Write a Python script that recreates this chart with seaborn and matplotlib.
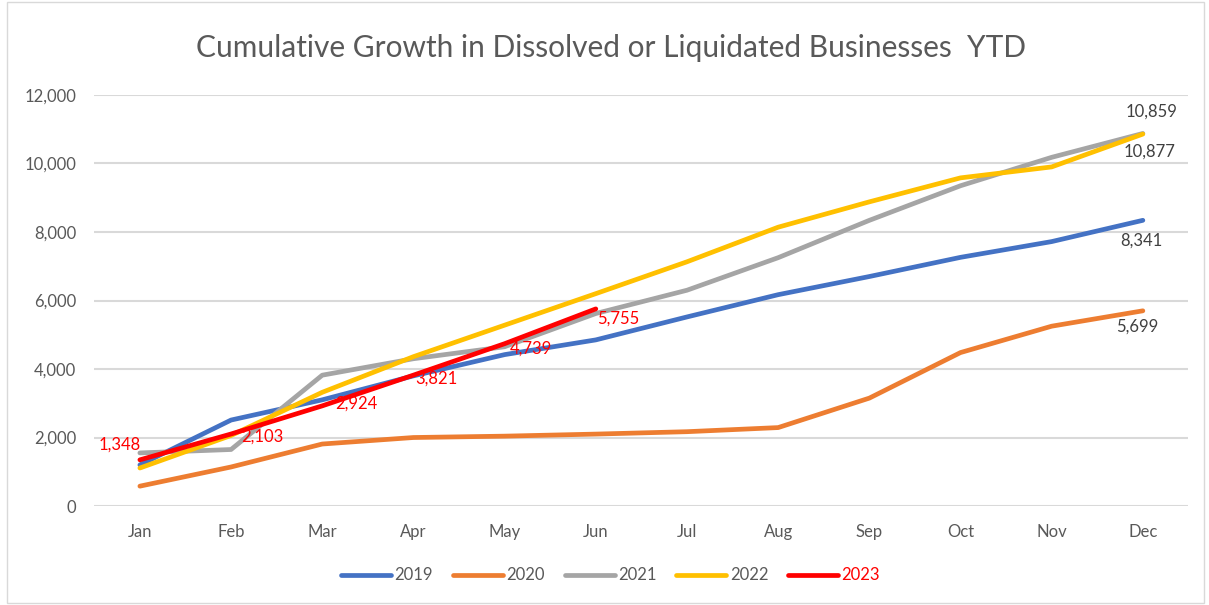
import numpy as np
import pandas as pd
import matplotlib
matplotlib.use('Agg')
import matplotlib.pyplot as plt
import seaborn as sns
from matplotlib.patches import Rectangle

# Data (cumulative counts, YTD)
months = ['Jan', 'Feb', 'Mar', 'Apr', 'May', 'Jun', 'Jul', 'Aug', 'Sep', 'Oct', 'Nov', 'Dec']
y2019 = [1200, 2510, 3100, 3800, 4420, 4850, 5520, 6170, 6700, 7260, 7720, 8341]
y2020 = [580, 1140, 1810, 2000, 2040, 2100, 2170, 2290, 3150, 4480, 5250, 5699]
y2021 = [1550, 1650, 3820, 4300, 4650, 5620, 6300, 7250, 8340, 9350, 10180, 10877]
y2022 = [1110, 2060, 3320, 4360, 5280, 6200, 7130, 8140, 8880, 9580, 9900, 10859]
y2023 = [1348, 2103, 2924, 3821, 4739, 5755]

years = ['2019', '2020', '2021', '2022', '2023']
series = [y2019, y2020, y2021, y2022, y2023]
colors = ['#4472C4', '#ED7D31', '#A5A5A5', '#FFC000', '#FF0000']

rows = []
for yr, vals in zip(years, series):
    for i, v in enumerate(vals):
        rows.append({'month': i, 'year': yr, 'value': v})
df = pd.DataFrame(rows)

sns.set_style('white')
plt.rcParams['font.family'] = ['Lato', 'DejaVu Sans']

fig = plt.figure(figsize=(12.09, 6.05), dpi=100)
ax = fig.add_axes([0.078, 0.1636, 0.905, 0.6794])

sns.lineplot(data=df, x='month', y='value', hue='year', palette=colors,
             linewidth=3.4, ax=ax, legend=False, sort=False)

ax.set_xlim(-0.5, 11.5)
ax.set_ylim(0, 12000)
ax.set_yticks(np.arange(0, 12001, 2000))
ax.set_yticklabels([f'{v:,}' for v in range(0, 12001, 2000)])
ax.set_xticks(range(12))
ax.set_xticklabels(months)
ax.tick_params(axis='y', length=0, pad=13, labelsize=12, labelcolor='#595959')
ax.tick_params(axis='x', length=0, pad=13, labelsize=12, labelcolor='#595959')
ax.set_xlabel('')
ax.set_ylabel('')
ax.yaxis.grid(True, color='#D9D9D9', linewidth=1.5)
ax.set_axisbelow(True)
for s in ax.spines.values():
    s.set_visible(False)

# Data labels for 2023 (red)
red_off = [(-20, 15), (31, -3), (34, 2), (23, -3), (26, -5), (22, -10)]
for i, (v, off) in enumerate(zip(y2023, red_off)):
    ax.annotate(f'{v:,}', (i, v), xytext=off, textcoords='offset pixels',
                ha='center', va='center', color='#FF0000', fontsize=12)

# Data labels for December values
dec_labels = [(y2022[-1], (9, 22)), (y2021[-1], (7, -18)),
              (y2019[-1], (-1, -20)), (y2020[-1], (-6, -16))]
for v, off in dec_labels:
    ax.annotate(f'{v:,}', (11, v), xytext=off, textcoords='offset pixels',
                ha='center', va='center', color='#404040', fontsize=12)

fig.text(0.505, 1 - 57 / 605, 'Cumulative Growth in Dissolved or Liquidated Businesses  YTD',
         ha='center', va='baseline', fontsize=21.5, color='#595959')

handles = [plt.Line2D([0], [0], color=c, linewidth=3.4, solid_capstyle='round') for c in colors]
leg = fig.legend(handles, years, loc='center', bbox_to_anchor=(0.505, 0.049), ncol=5,
                 frameon=False, fontsize=12, handlelength=3.0, handletextpad=0.2,
                 columnspacing=1.2)
for t in leg.get_texts():
    t.set_color('#595959')
leg.get_texts()[-1].set_color('#FF0000')

fig.patches.append(Rectangle((0.006, 0.004), 0.99, 0.992, transform=fig.transFigure,
                             fill=False, edgecolor='#D9D9D9', linewidth=1))

fig.savefig('out.png', dpi=100)
